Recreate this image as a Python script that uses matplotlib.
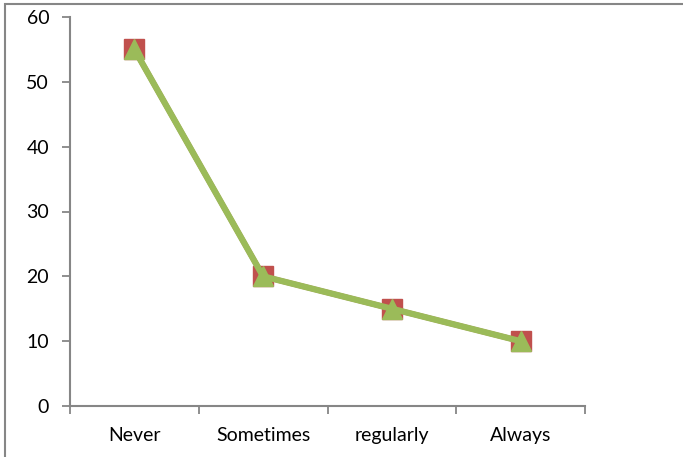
import matplotlib.pyplot as plt
from matplotlib.patches import Rectangle

# data
categories = ['Never', 'Sometimes', 'regularly', 'Always']
series_red = [55, 20, 15, 10]
series_green = [55, 20, 15, 10]

plt.rcParams['font.family'] = ['Lato', 'DejaVu Sans']

fig = plt.figure(figsize=(6.83, 4.57), dpi=100)
ax = fig.add_axes([70 / 683, 51 / 457, 515 / 683, 389 / 457])

x = list(range(len(categories)))
ax.plot(x, series_red, color='#C0504D', linewidth=4, marker='s', markersize=14,
        markerfacecolor='#C0504D', markeredgecolor='#C0504D', zorder=3)
ax.plot(x, series_green, color='#9BBB59', linewidth=4.5, marker='^', markersize=15,
        markerfacecolor='#9BBB59', markeredgecolor='#9BBB59', zorder=4)

ax.set_xlim(-0.5, len(categories) - 0.5)
ax.set_ylim(0, 60)
ax.set_yticks(range(0, 61, 10))

# category labels between tick marks, ticks at boundaries
ax.set_xticks([i - 0.5 for i in range(len(categories) + 1)])
ax.set_xticklabels([])
ax.set_xticks(x, minor=True)
ax.set_xticklabels(categories, minor=True)
ax.tick_params(axis='x', which='minor', length=0, pad=15, labelsize=14)
ax.tick_params(axis='x', which='major', length=6, width=1.3, color='#868686', direction='out')
ax.tick_params(axis='y', length=6, width=1.3, color='#868686', direction='out',
               labelsize=14, pad=9)

for s in ['top', 'right']:
    ax.spines[s].set_visible(False)
for s in ['left', 'bottom']:
    ax.spines[s].set_color('#868686')
    ax.spines[s].set_linewidth(1.5)

# outer chart border (only left and top visible in the crop)
fig.add_artist(Rectangle((5 / 683, -0.2), 2.0, 1.2 - 4 / 457,
                         transform=fig.transFigure, fill=False,
                         edgecolor='#868686', linewidth=1.5))

fig.savefig('out.png', dpi=100)
